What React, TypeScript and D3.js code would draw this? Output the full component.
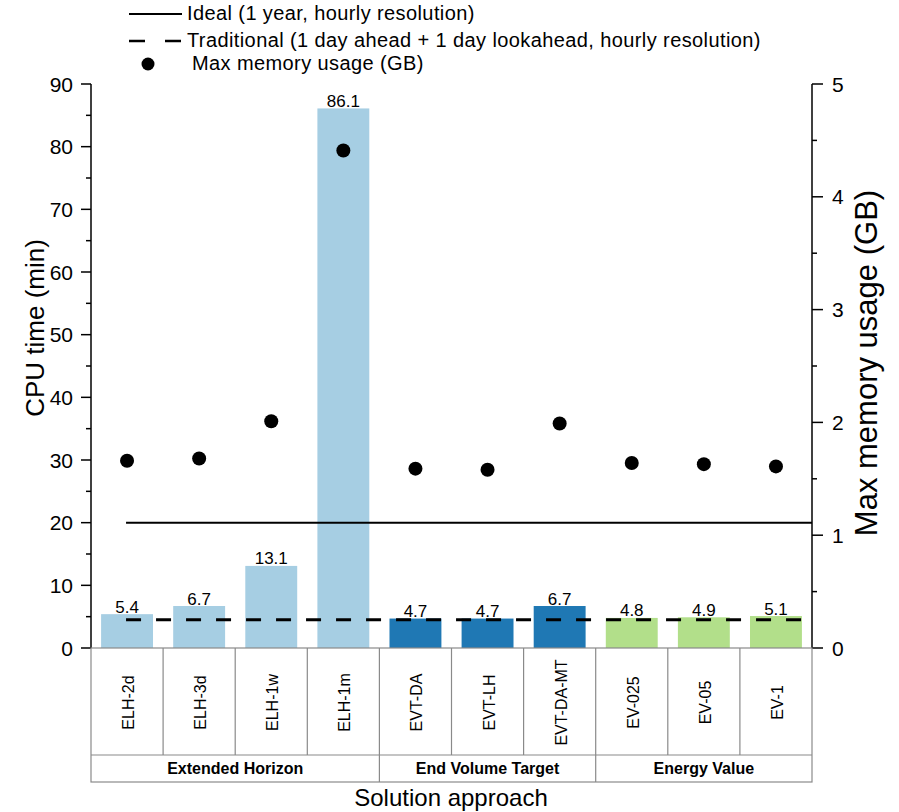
import React from "react";
import * as d3 from "d3";

const categories = ["ELH-2d", "ELH-3d", "ELH-1w", "ELH-1m", "EVT-DA", "EVT-LH", "EVT-DA-MT", "EV-025", "EV-05", "EV-1"];
const groups = ["Extended Horizon", "Extended Horizon", "Extended Horizon", "Extended Horizon", "End Volume Target", "End Volume Target", "End Volume Target", "Energy Value", "Energy Value", "Energy Value"];
const cpuTime = [5.4, 6.7, 13.1, 86.1, 4.7, 4.7, 6.7, 4.8, 4.9, 5.1];
const memoryGB = [1.66, 1.68, 2.01, 4.41, 1.59, 1.58, 1.99, 1.64, 1.63, 1.61];
const idealCpu = 20;
const traditionalCpu = 4.5;
const leftTicks = [0, 10, 20, 30, 40, 50, 60, 70, 80, 90];
const rightTicks = [0, 1, 2, 3, 4, 5];
const groupColors: Record<string, string> = {
  "Extended Horizon": "#a6cee3",
  "End Volume Target": "#1f78b4",
  "Energy Value": "#b2df8a",
};

const W = 899;
const H = 812;
const left = 91;
const right = 812;
const top = 84;
const bottom = 648;
const row1 = 755;
const row2 = 782;
const font = "Arial, 'Liberation Sans', sans-serif";

export default function App() {
  const x = d3.scaleBand<string>().domain(categories).range([left, right]).paddingInner(0.28).paddingOuter(0.14);
  const step = x.step();
  const yL = d3.scaleLinear().domain([0, 90]).range([bottom, top]);
  const yR = d3.scaleLinear().domain([0, 5]).range([bottom, top]);
  const minorL = d3.range(5, 90, 10);
  const minorR = d3.range(0.5, 5, 1);
  const cx = (c: string) => (x(c) ?? 0) + x.bandwidth() / 2;
  const lineStart = cx(categories[0]) - 1;

  // consecutive categories sharing a group form one span in the lower table row
  const spans: { name: string; start: number; end: number }[] = [];
  groups.forEach((g, i) => {
    const last = spans[spans.length - 1];
    if (last && last.name === g) last.end = i;
    else spans.push({ name: g, start: i, end: i });
  });
  const bandLeft = (i: number) => left + i * step;

  return (
    <svg width={W} height={H} style={{ position: "absolute", left: 0, top: 0, background: "#fff" }} fontFamily={font}>
      {/* legend */}
      <g>
        <line x1={129} x2={182} y1={14} y2={14} stroke="#000" strokeWidth={2} />
        <text x={187} y={20} fontSize={20} letterSpacing={0.4}>Ideal (1 year, hourly resolution)</text>
        <line x1={129} x2={182} y1={41} y2={41} stroke="#000" strokeWidth={2.5} strokeDasharray="16,20" />
        <text x={187} y={47} fontSize={20} letterSpacing={0.4}>Traditional (1 day ahead + 1 day lookahead, hourly resolution)</text>
        <circle cx={148} cy={64} r={6.5} fill="#000" />
        <text x={192} y={70} fontSize={20} letterSpacing={0.4}>Max memory usage (GB)</text>
      </g>

      {/* bars with value labels */}
      {categories.map((c, i) => (
        <g key={c}>
          <rect x={x(c)} y={yL(cpuTime[i])} width={x.bandwidth()} height={bottom - yL(cpuTime[i])} fill={groupColors[groups[i]]} />
          <text x={cx(c)} y={yL(cpuTime[i]) - 1.5} fontSize={17} textAnchor="middle">{cpuTime[i].toFixed(1)}</text>
        </g>
      ))}

      {/* reference lines */}
      <line x1={lineStart} x2={right} y1={yL(idealCpu)} y2={yL(idealCpu)} stroke="#000" strokeWidth={2} />
      <line x1={lineStart} x2={right} y1={yL(traditionalCpu)} y2={yL(traditionalCpu)} stroke="#000" strokeWidth={3} strokeDasharray="15,15" />

      {/* memory points on the right axis */}
      {categories.map((c, i) => (
        <circle key={c} cx={cx(c)} cy={yR(memoryGB[i])} r={7} fill="#000" />
      ))}

      {/* left axis */}
      <line x1={left} x2={left} y1={top} y2={bottom} stroke="#000" strokeWidth={1.5} />
      {leftTicks.map((t) => (
        <g key={t}>
          <line x1={left - 10} x2={left} y1={yL(t)} y2={yL(t)} stroke="#000" strokeWidth={1.5} />
          <text x={73} y={yL(t) + 7.5} fontSize={21} textAnchor="end">{t}</text>
        </g>
      ))}
      {minorL.map((t) => (
        <line key={t} x1={left - 5} x2={left} y1={yL(t)} y2={yL(t)} stroke="#000" strokeWidth={1.5} />
      ))}
      <text transform={`translate(44,328) rotate(-90)`} fontSize={26} textAnchor="middle">CPU time (min)</text>

      {/* right axis */}
      <line x1={right} x2={right} y1={top} y2={bottom} stroke="#000" strokeWidth={1.5} />
      {rightTicks.map((t) => (
        <g key={t}>
          <line x1={right} x2={right + 11} y1={yR(t)} y2={yR(t)} stroke="#000" strokeWidth={1.5} />
          <text x={832} y={yR(t) + 7.5} fontSize={21}>{t}</text>
        </g>
      ))}
      {minorR.map((t) => (
        <line key={t} x1={right} x2={right + 5} y1={yR(t)} y2={yR(t)} stroke="#000" strokeWidth={1.5} />
      ))}
      <text transform={`translate(877,363) rotate(-90)`} fontSize={31} textAnchor="middle">Max memory usage (GB)</text>

      {/* category table below the plot */}
      <g stroke="#8a8a8a" strokeWidth={1.2} fill="none">
        <rect x={left} y={bottom} width={right - left} height={row2 - bottom} />
        <line x1={left} x2={right} y1={row1} y2={row1} />
        {categories.map((_, i) => (i > 0 ? (
          <line key={i} x1={bandLeft(i)} x2={bandLeft(i)} y1={bottom} y2={spans.some((s) => s.start === i) ? row2 : row1} />
        ) : null))}
      </g>
      {categories.map((c) => (
        <text key={c} transform={`translate(${cx(c) + 7},${(bottom + row1) / 2 + 1}) rotate(-90)`} fontSize={16} textAnchor="middle">{c}</text>
      ))}
      {spans.map((s) => (
        <text key={s.name} x={(bandLeft(s.start) + bandLeft(s.end + 1)) / 2} y={774} fontSize={16} fontWeight="bold" textAnchor="middle">{s.name}</text>
      ))}
      <text x={451} y={806} fontSize={24} textAnchor="middle">Solution approach</text>
    </svg>
  );
}
